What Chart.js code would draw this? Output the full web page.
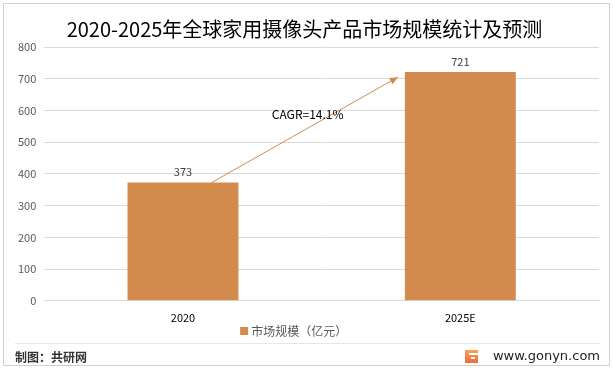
<!DOCTYPE html>
<html>
<head>
<meta charset="utf-8">
<script src="https://cdn.jsdelivr.net/npm/chart.js@4/dist/chart.umd.min.js"></script>
<style>
html,body{margin:0;padding:0;background:#fff;}
#wrap{position:relative;width:613px;height:371px;}
canvas{display:block;}
</style>
</head>
<body>
<div id="wrap"><canvas id="c" width="613" height="371"></canvas></div>
<script>
const categories = ["2020", "2025E"];
const marketSize = [373, 721];
const seriesName = "市场规模（亿元）";
const yTicks = [0, 100, 200, 300, 400, 500, 600, 700, 800];
const titleText = "2020-2025年全球家用摄像头产品市场规模统计及预测";
const cagrText = "CAGR=14.1%";
const sourceText = "制图：共研网";
const siteText = "www.gonyn.com";

const barColor = "#D38B4D";
const fontCJK = "'Noto Sans CJK SC', 'Noto Sans', sans-serif";

const decor = {
  id: "decor",
  beforeDraw(chart) {
    const ctx = chart.ctx;
    ctx.save();
    ctx.fillStyle = "#fff";
    ctx.fillRect(0, 0, chart.width, chart.height);
    ctx.strokeStyle = "#D0D0D0";
    ctx.lineWidth = 1;
    ctx.strokeRect(3.5, 3.5, 606, 362);
    ctx.strokeStyle = "#E6E6E6";
    ctx.beginPath();
    ctx.moveTo(15, 343.5);
    ctx.lineTo(600, 343.5);
    ctx.stroke();
    ctx.restore();
  },
  afterDraw(chart) {
    const ctx = chart.ctx;
    const xs = chart.scales.x, ys = chart.scales.y;
    const meta = chart.getDatasetMeta(0);
    const ds = chart.data.datasets[0];
    ctx.save();
    // data labels
    ctx.fillStyle = "#404040";
    ctx.font = "11px " + fontCJK;
    ctx.textAlign = "center";
    ctx.textBaseline = "bottom";
    meta.data.forEach((bar, i) => {
      ctx.fillText(String(marketSize[i]), bar.x, bar.y - 5);
    });
    // legend
    ctx.font = "12px " + fontCJK;
    const tw = ctx.measureText(ds.label).width;
    const lgW = 8 + 3 + tw;
    const lgX = (xs.left + xs.right) / 2 - lgW / 2 - 28;
    const lgY = 331;
    ctx.fillStyle = ds.backgroundColor;
    ctx.fillRect(lgX, lgY - 4, 8, 8);
    ctx.fillStyle = "#595959";
    ctx.textAlign = "left";
    ctx.textBaseline = "middle";
    ctx.fillText(ds.label, lgX + 11, lgY);
    // CAGR arrow
    const b0 = meta.data[0], b1 = meta.data[1];
    const x0 = b0.x + b0.width * 0.26;
    const y0 = ys.getPixelForValue(marketSize[0]);
    const x1 = b1.x - b1.width / 2 - 7;
    const y1 = ys.getPixelForValue(705);
    ctx.strokeStyle = barColor;
    ctx.fillStyle = barColor;
    ctx.lineWidth = 1;
    ctx.beginPath();
    ctx.moveTo(x0, y0);
    ctx.lineTo(x1, y1);
    ctx.stroke();
    const ang = Math.atan2(y1 - y0, x1 - x0);
    const L = 8, W = 3.5;
    ctx.beginPath();
    ctx.moveTo(x1, y1);
    ctx.lineTo(x1 - L * Math.cos(ang) + W * Math.sin(ang), y1 - L * Math.sin(ang) - W * Math.cos(ang));
    ctx.lineTo(x1 - L * Math.cos(ang) - W * Math.sin(ang), y1 - L * Math.sin(ang) + W * Math.cos(ang));
    ctx.closePath();
    ctx.fill();
    // CAGR text
    ctx.fillStyle = "#000";
    ctx.font = "12px " + fontCJK;
    ctx.textBaseline = "middle";
    ctx.textAlign = "center";
    ctx.fillText(cagrText, (b0.x + b1.x) / 2 - 14, ys.getPixelForValue(586));
    // footer
    ctx.fillStyle = "#333";
    ctx.font = "bold 12px " + fontCJK;
    ctx.textAlign = "left";
    ctx.fillText(sourceText, 15, 357);
    ctx.font = "13px 'DejaVu Sans', sans-serif";
    ctx.textAlign = "right";
    ctx.fillStyle = "#222";
    ctx.fillText(siteText, 600, 357);
    // logo
    const lx = 465, ly = 350;
    const grd = ctx.createLinearGradient(lx, ly, lx, ly + 13);
    grd.addColorStop(0, "#F7A35C");
    grd.addColorStop(1, "#EE6A3A");
    ctx.fillStyle = grd;
    ctx.fillRect(lx, ly, 13, 13);
    ctx.fillStyle = "#fff";
    ctx.fillRect(lx + 4, ly + 3, 9, 2);
    ctx.fillRect(lx + 6, ly + 7, 4, 2);
    ctx.restore();
  }
};

new Chart(document.getElementById("c"), {
  type: "bar",
  data: {
    labels: categories,
    datasets: [{
      label: seriesName,
      data: marketSize,
      backgroundColor: barColor,
      borderWidth: 0,
      categoryPercentage: 1,
      barPercentage: 0.4
    }]
  },
  options: {
    responsive: false,
    animation: false,
    devicePixelRatio: 1,
    layout: { padding: { left: 10, right: 14, top: 8, bottom: 37 } },
    plugins: {
      title: {
        display: true,
        text: titleText,
        color: "#000",
        font: { family: fontCJK, size: 20, weight: "normal" },
        padding: { top: 9, bottom: 6 }
      },
      legend: { display: false },
      tooltip: { enabled: false }
    },
    scales: {
      x: {
        grid: { display: false, drawTicks: false },
        border: { color: "#D9D9D9" },
        ticks: { color: "#000", font: { family: fontCJK, size: 11 }, padding: 10 }
      },
      y: {
        min: 0,
        max: 800,
        afterBuildTicks(axis) { axis.ticks = yTicks.map(v => ({ value: v })); },
        grid: { color: "#D9D9D9", drawTicks: false },
        border: { display: false },
        ticks: { color: "#595959", font: { family: fontCJK, size: 11 }, padding: 8 }
      }
    }
  },
  plugins: [decor]
});
</script>
</body>
</html>
